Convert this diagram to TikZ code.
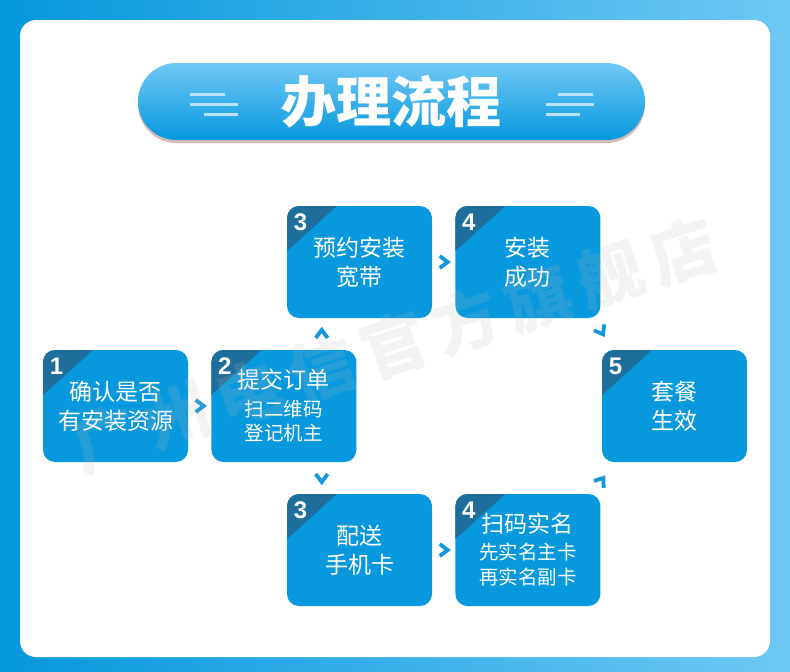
\documentclass[tikz,border=0pt]{standalone}
\usepackage{fontspec}
\setmainfont{Liberation Sans}
\newfontfamily\cjk{Noto Sans CJK SC}
\usetikzlibrary{positioning,calc,shadows}
\definecolor{bgleft}{RGB}{5,152,220}
\definecolor{bgright}{RGB}{110,200,244}
\definecolor{stepblue}{RGB}{8,152,222}
\definecolor{cornerblue}{RGB}{30,110,156}
\definecolor{chevblue}{RGB}{22,150,220}
\definecolor{pilltop}{RGB}{112,200,245}
\definecolor{pillbot}{RGB}{6,152,222}
\definecolor{pillshadow}{RGB}{180,120,110}
\definecolor{decoblue}{RGB}{185,226,248}
\definecolor{wmgray}{RGB}{185,185,185}
\newcommand\subline[1]{{\fontsize{19.5}{24}\selectfont #1}}
\tikzset{
  stepbox/.style={rectangle, rounded corners=12pt, fill=stepblue, minimum width=145pt,
                  minimum height=112pt, inner sep=0pt, text=white, align=center,
                  font=\cjk\fontsize{23}{29}\selectfont,
                  path picture={
                    \fill[cornerblue, sharp corners] (path picture bounding box.north west)
                      -- ++(50,0) -- ++(-50,45) -- cycle;
                    \node[stepnum] at ($(path picture bounding box.north west)+(13.5,16.5)$) {#1};
                  }},
  stepnum/.style={anchor=center, font=\bfseries\fontsize{24}{24}\selectfont, text=white, inner sep=0pt},
  titlepill/.style={rounded corners=38.5pt, minimum width=507pt, minimum height=77pt,
                    top color=pilltop, bottom color=pillbot, text=white, inner sep=0pt,
                    font=\cjk\bfseries\fontsize{55}{55}\selectfont,
                    drop shadow={shadow xshift=0pt, shadow yshift=-3pt, fill=pillshadow, opacity=.5}},
  decoline/.style={line width=3pt, decoblue},
  watermark/.style={font=\cjk\bfseries\fontsize{66}{66}\selectfont\addfontfeature{LetterSpace=15},
                    text=wmgray, opacity=.17, rotate=18},
  chevline/.style={line width=3.8pt, chevblue},
  chev/.pic={\draw[chevline] (-4,-6) -- (4,0) -- (-4,6);}
}

\begin{document}
\begin{tikzpicture}[x=1pt, y=-1pt]
  \useasboundingbox (0,0) rectangle (790,672);
  \shade[left color=bgleft, right color=bgright] (0,0) rectangle (790,672);
  \fill[white, rounded corners=16pt] (20,20) rectangle (770,657);

  % title
  \node[titlepill] (title) at (391.5,101.5) {办理流程};
  \draw[decoline] (190,94) -- (225,94);
  \draw[decoline] (190,104) -- (238,104);
  \draw[decoline] (204,114) -- (238,114);
  \draw[decoline] (558,94) -- (593,94);
  \draw[decoline] (546,104) -- (594,104);
  \draw[decoline] (546,114) -- (580,114);

  % steps
  \node[stepbox=1] (b1) at (115.5,406) {确认是否\\有安装资源};
  \node[stepbox=2, right=23pt of b1] (b2) {提交订单\\[-1pt]\subline{扫二维码}\\[-5pt]\subline{登记机主}};
  \node[stepbox=3] (b3t) at (359.5,262) {预约安装\\宽带};
  \node[stepbox=4, right=23pt of b3t] (b4t) {安装\\成功};
  \node[stepbox=3] (b3b) at (359.5,550) {配送\\手机卡};
  \node[stepbox=4, right=23pt of b3b] (b4b) {扫码实名\\[-2pt]\subline{先实名主卡}\\[-4pt]\subline{再实名副卡}};
  \node[stepbox=5] (b5) at (674.5,406) {套餐\\生效};

  % chevrons
  \path (b1.east) -- coordinate[midway] (c12) (b2.west);
  \path (b3t.east) -- coordinate[midway] (c34t) (b4t.west);
  \path (b3b.east) -- coordinate[midway] (c34b) (b4b.west);
  \pic at (c12) {chev};
  \pic at (c34t) {chev};
  \pic at (c34b) {chev};
  \pic[rotate=90] at ($(b2.north)!.5!(b3t.south)$) {chev};
  \pic[rotate=-90] at ($(b2.south)!.5!(b3b.north)$) {chev};
  \pic[rotate=-60] at ($(b4t.south east)!.4!(b5.north west)$) {chev};
  \pic[rotate=55] at ($(b4b.north east)!.4!(b5.south west)$) {chev};

  \node[watermark] (wm) at (394,345) {广州电信官方旗舰店};
\end{tikzpicture}
\end{document}
